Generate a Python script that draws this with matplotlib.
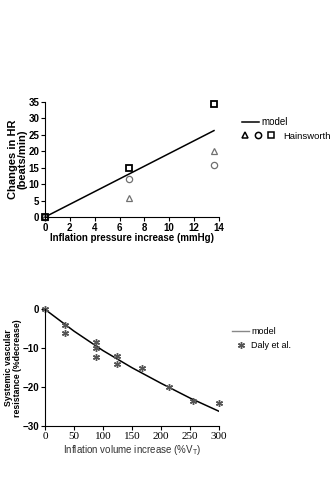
import numpy as np
import matplotlib.pyplot as plt
from matplotlib.lines import Line2D
from matplotlib.legend_handler import HandlerTuple

# top panel: heart rate vs inflation pressure
pressure = [0, 6.8, 13.6]
hr_triangle = [0, 5.8, 20.1]
hr_circle = [0, 11.5, 15.8]
hr_square = [0, 15.0, 34.3]
model_p = [0, 13.6]
model_hr = [0, 26.3]

# bottom panel: vascular resistance vs inflation volume
volume = [0, 35, 35, 88, 88, 88, 125, 125, 168, 213, 255, 300]
svr_daly = [0, -4, -6, -8.5, -10, -12.3, -12, -14, -15, -20, -23.5, -24]
model_v = [0, 50, 100, 150, 200, 250, 300]
model_svr = [0, -5.6, -10.6, -15.0, -19.0, -22.8, -26.2]

plt.rcParams['font.family'] = ['Liberation Sans', 'DejaVu Sans']

fig = plt.figure(figsize=(3.32, 5.03), dpi=100)

ax1 = fig.add_axes([0.1355, 0.5686, 0.524, 0.2286])
ax1.plot(model_p, model_hr, color='black', lw=1.1)
ax1.plot(pressure, hr_triangle, ls='none', marker='^', ms=4.5, mfc='none', mec='#707070', mew=0.9, clip_on=False)
ax1.plot(pressure, hr_circle, ls='none', marker='o', ms=4.5, mfc='none', mec='#707070', mew=0.9, clip_on=False)
ax1.plot(pressure, hr_square, ls='none', marker='s', ms=5, mfc='none', mec='black', mew=1.3, clip_on=False)
ax1.set_xlim(0, 14)
ax1.set_ylim(0, 35)
ax1.set_xticks(range(0, 15, 2))
ax1.set_yticks(range(0, 36, 5))
for s in ['top', 'right']:
    ax1.spines[s].set_visible(False)
ax1.tick_params(labelsize=7, length=3, width=0.8, pad=1)
for lab in ax1.get_xticklabels() + ax1.get_yticklabels():
    lab.set_fontweight('bold')
ax1.set_xlabel("Inflation pressure increase (mmHg)", fontsize=7, fontweight='bold', labelpad=0)
ax1.set_ylabel("Changes in HR\n(beats/min)", fontsize=8, fontweight='bold', linespacing=1.0)
ax1.yaxis.set_label_coords(-0.098, 0.5)

h_model = Line2D([], [], color='black', lw=1.1)
fig.legend([h_model], ["model"], loc='center left', bbox_to_anchor=(0.729, 0.7575),
           frameon=False, fontsize=7, handlelength=1.75, handletextpad=0.25,
           borderaxespad=0, borderpad=0)
h_tri = Line2D([], [], ls='none', marker='^', ms=4.5, mfc='none', mec='black', mew=1.1)
h_cir = Line2D([], [], ls='none', marker='o', ms=4.5, mfc='none', mec='black', mew=1.1)
h_sq = Line2D([], [], ls='none', marker='s', ms=4.5, mfc='none', mec='black', mew=1.1)
fig.legend([(h_tri, h_cir, h_sq)], ["Hainsworth"],
           handler_map={tuple: HandlerTuple(ndivide=None, pad=0.0)},
           loc='center left', bbox_to_anchor=(0.718, 0.7296), frameon=False,
           fontsize=6.8, handlelength=4.2, handletextpad=0.5,
           borderaxespad=0, borderpad=0)

ax2 = fig.add_axes([0.1355, 0.153, 0.524, 0.232])
ax2.plot(model_v, model_svr, color='black', lw=1.1)
ax2.plot(volume, svr_daly, ls='none', marker=(6, 2, 0), ms=5, mec='#555555', mew=1.0, clip_on=False)
ax2.set_xlim(0, 300)
ax2.set_ylim(-30, 0)
ax2.set_xticks(range(0, 301, 50))
ax2.set_yticks([0, -10, -20, -30])
for s in ['top', 'right']:
    ax2.spines[s].set_visible(False)
ax2.tick_params(labelsize=7, length=3, width=0.8, pad=1)
for lab in ax2.get_xticklabels():
    lab.set_fontfamily('Liberation Serif')
    lab.set_fontsize(8)
for lab in ax2.get_yticklabels():
    lab.set_fontweight('bold')
ax2.set_xlabel(r"Inflation volume increase (%V$_\mathregular{T}$)", fontsize=7, color='#333333', labelpad=2)
ax2.set_ylabel("Systemic vascular\nresistance (%decrease)", fontsize=6.3, fontweight='bold', linespacing=1.0)
ax2.yaxis.set_label_coords(-0.135, 0.5)

h_m2 = Line2D([], [], color='#888888', lw=1.0)
h_daly = Line2D([], [], ls='none', marker=(6, 2, 0), ms=5, mec='#555555', mew=1.0)
fig.legend([h_m2, h_daly], ["model", "Daly et al."],
           loc='upper left', bbox_to_anchor=(0.70, 0.349), frameon=False,
           fontsize=6.5, handlelength=1.8, handletextpad=0.3, labelspacing=0.5,
           borderaxespad=0, borderpad=0)

fig.savefig("out.png", dpi=100)
